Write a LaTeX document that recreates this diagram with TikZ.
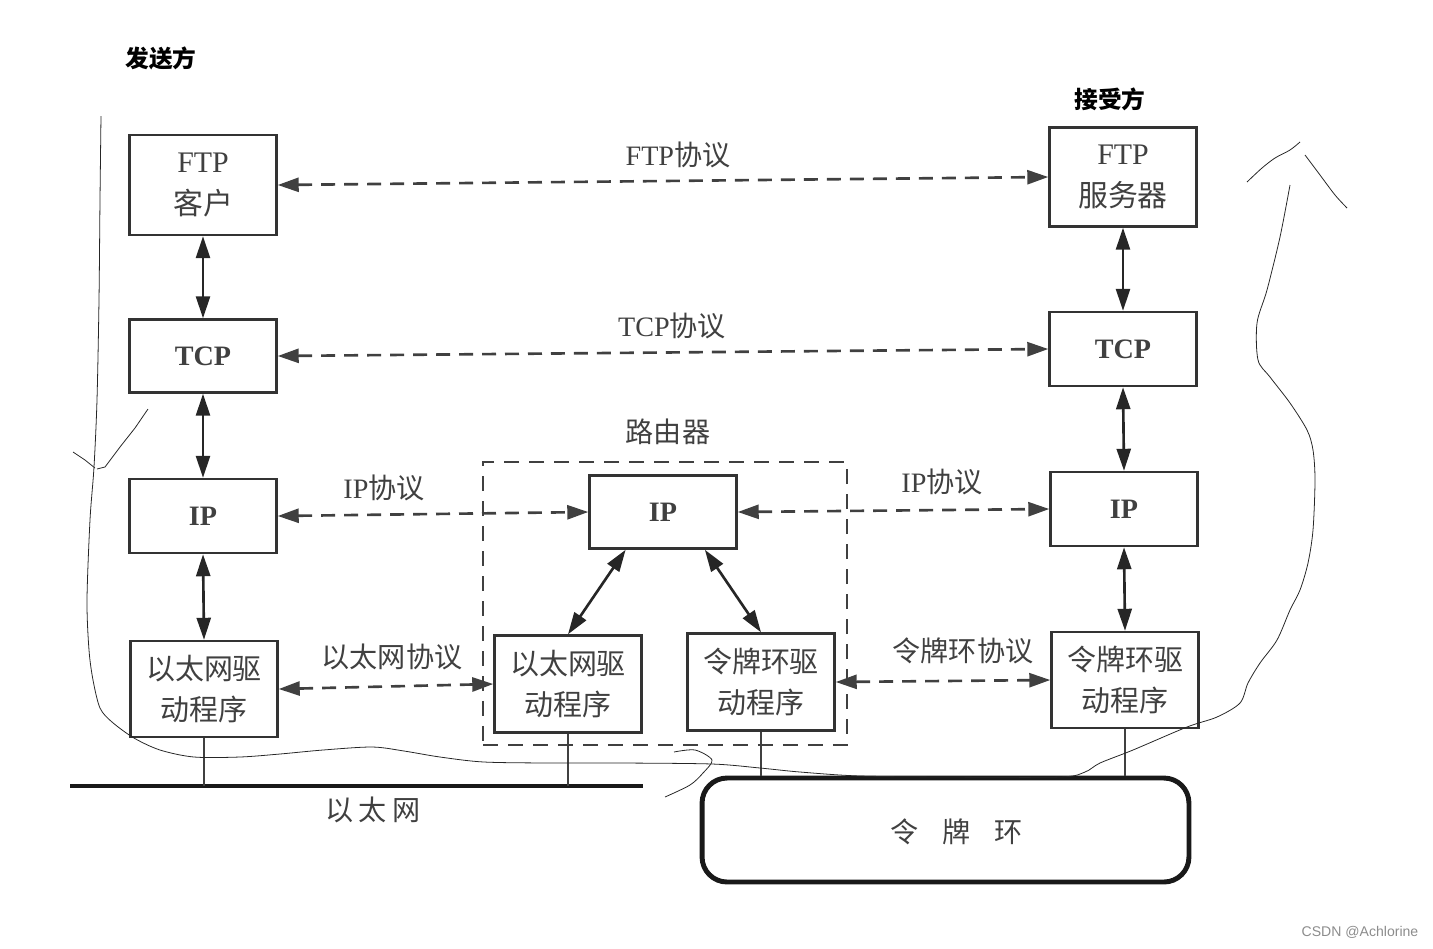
\documentclass[tikz,border=0pt]{standalone}
\usepackage{fontspec}
\setmainfont{Liberation Serif}
\newfontfamily\cjk{Noto Sans CJK SC}
\newfontfamily\wmfont{Liberation Sans}
\usetikzlibrary{arrows.meta,calc}

\tikzset{
  box/.style={draw=black!80,line width=1.4pt,minimum width=2.94cm,align=center,
    text=black!75,font=\fontsize{17}{24}\selectfont},
  cbox/.style={box,font=\cjk\fontsize{16.5}{23}\selectfont},
  bbox/.style={box,font=\bfseries\fontsize{16}{20}\selectfont},
  proto/.style={draw=black!75,line width=1.5pt,dash pattern=on 0.28cm off 0.18cm,{Triangle[length=0.42cm,width=0.28cm]}-{Triangle[length=0.42cm,width=0.28cm]}},
  link/.style={draw=black!85,line width=1.5pt,{Triangle[length=0.44cm,width=0.28cm]}-{Triangle[length=0.44cm,width=0.28cm]}},
  lbl/.style={text=black!75,font=\fontsize{16}{19}\selectfont},
  stem/.style={draw=black!75,line width=1.2pt},
  hand/.style={draw=black!85,line width=0.45pt}
}

\begin{document}
\begin{tikzpicture}[x=0.02cm,y=-0.02cm]
\useasboundingbox (0,0) rectangle (1433,948);

% titles
\node[font=\cjk\bfseries\fontsize{13.5}{16}\selectfont] (sender) at (161,58) {发送方};
\node[font=\cjk\bfseries\fontsize{13.5}{16}\selectfont] (receiver) at (1110,99) {接受方};

% sender stack
\node[box,minimum height=2cm] (ftpc) at (203,185) {FTP\\{\cjk 客户}};
\node[bbox,minimum height=1.46cm] (tcpl) at (203,356) {TCP};
\node[bbox,minimum height=1.48cm] (ipl) at (203,516) {IP};
\node[cbox,minimum height=1.92cm] (ethl) at (204,689) {以太网驱\\动程序};

% router
\node[draw=black!75,line width=1.3pt,dash pattern=on 0.3cm off 0.2cm,
  minimum width=7.28cm,minimum height=5.66cm] (router) at (665,603.5) {};
\node[lbl,font=\cjk\fontsize{16}{19}\selectfont] (routerlbl) at (668,432) {路由器};
\node[bbox,minimum height=1.46cm] (ipm) at (663,512) {IP};
\node[cbox,minimum height=1.94cm] (ethm) at (568,684) {以太网驱\\动程序};
\node[cbox,minimum height=1.94cm] (tokm) at (761,682) {令牌环驱\\动程序};

% receiver stack
\node[box,minimum height=1.98cm] (ftps) at (1123,177) {FTP\\{\cjk 服务器}};
\node[bbox,minimum height=1.48cm] (tcpr) at (1123,349) {TCP};
\node[bbox,minimum height=1.48cm] (ipr) at (1124,509) {IP};
\node[cbox,minimum height=1.92cm] (tokr) at (1125,680) {令牌环驱\\动程序};

% vertical links
\draw[link] (ftpc.south) -- (tcpl.north);
\draw[link] (tcpl.south) -- (ipl.north);
\draw[link] (ipl.south) -- (ethl.north);
\draw[link] (ftps.south) -- (tcpr.north);
\draw[link] (tcpr.south) -- (ipr.north);
\draw[link] (ipr.south) -- (tokr.north);
\draw[link] ($(ipm.south west)!0.25!(ipm.south east)$) -- (ethm.north);
\draw[link] ($(ipm.south west)!0.78!(ipm.south east)$) -- (tokm.north);

% peer protocols
\draw[proto] (ftpc.east) -- (ftps.west);
\draw[proto] (tcpl.east) -- (tcpr.west);
\draw[proto] (ipl.east) -- (ipm.west);
\draw[proto] (ipm.east) -- (ipr.west);
\draw[proto] (ethl.east) -- (ethm.west);
\draw[proto] (tokm.east) -- (tokr.west);
\node[lbl] (ftplbl) at (678,155) {FTP{\cjk 协议}};
\node[lbl] (tcplbl) at (672,326) {TCP{\cjk 协议}};
\node[lbl] (iplbl1) at (384,488) {IP{\cjk 协议}};
\node[lbl] (iplbl2) at (942,482) {IP{\cjk 协议}};
\node[lbl,font=\cjk\fontsize{16}{19}\selectfont] (ethlbl) at (392,657) {以太网协议};
\node[lbl,font=\cjk\fontsize{16}{19}\selectfont] (toklbl) at (963,651) {令牌环协议};

% ethernet bus
\coordinate (busL) at (70,786);
\coordinate (busR) at (643,786);
\draw[black!90,line width=2.8pt] (busL) -- (busR);
\node[lbl,font=\cjk\fontsize{16}{19}\selectfont] (buslbl) at (373,810) {以\hspace{0.2em}太\hspace{0.2em}网};
\draw[stem] (ethl.south) -- (ethl.south |- busL);
\draw[stem] (ethm.south) -- (ethm.south |- busL);

% token ring
\node[draw=black!90,line width=2.8pt,rounded corners=0.5cm,
  minimum width=9.74cm,minimum height=2.08cm] (ring) at (945.5,830) {};
\node[lbl,font=\cjk\fontsize{16}{19}\selectfont] (ringlbl) at (957,832) {令\hspace{0.85em}牌\hspace{0.85em}环};
\draw[stem] (tokm.south) -- (tokm.south |- ring.north);
\draw[stem] (tokr.south) -- (tokr.south |- ring.north);

% hand-drawn path
\draw[hand] plot[smooth,tension=0.5] coordinates {(101,116) (100,200) (99,300)
  (97,400) (94,467) (90,520) (87,600) (89,650) (93,680) (100,708) (112,722)
  (134,738) (160,750) (194,757) (240,757) (280,754) (323,750) (372,747) (404,751)
  (440,757) (484,762) (551,763) (620,763) (712,764) (760,768) (800,772) (860,776)
  (950,777) (1060,777) (1085,772) (1100,763) (1133,750) (1187,727) (1217,717)
  (1240,703) (1248,683) (1260,663) (1277,640) (1290,610) (1300,590) (1308,563)
  (1313,530) (1315,480) (1313,450) (1307,430) (1290,403) (1270,377) (1258,360)
  (1257,323) (1267,290) (1280,237) (1290,185)};
\draw[hand] (73,452) -- (85,460) -- (95,468);
\draw[hand] (97,469) -- (105,467) -- (120,447) -- (135,428) -- (148,409);
\draw[hand] plot[smooth,tension=0.5] coordinates {(674,752) (695,750) (712,760) (703,773) (690,785) (665,797)};
\draw[hand] plot[smooth,tension=0.5] coordinates {(1247,182) (1262,168) (1275,158) (1290,150) (1300,142)};
\draw[hand] plot[smooth,tension=0.5] coordinates {(1305,155) (1320,175) (1335,195) (1347,208)};

% watermark
\node[text=black!45,font=\wmfont\fontsize{8}{10}\selectfont] (mark) at (1360,932) {CSDN @Achlorine};
\end{tikzpicture}
\end{document}
